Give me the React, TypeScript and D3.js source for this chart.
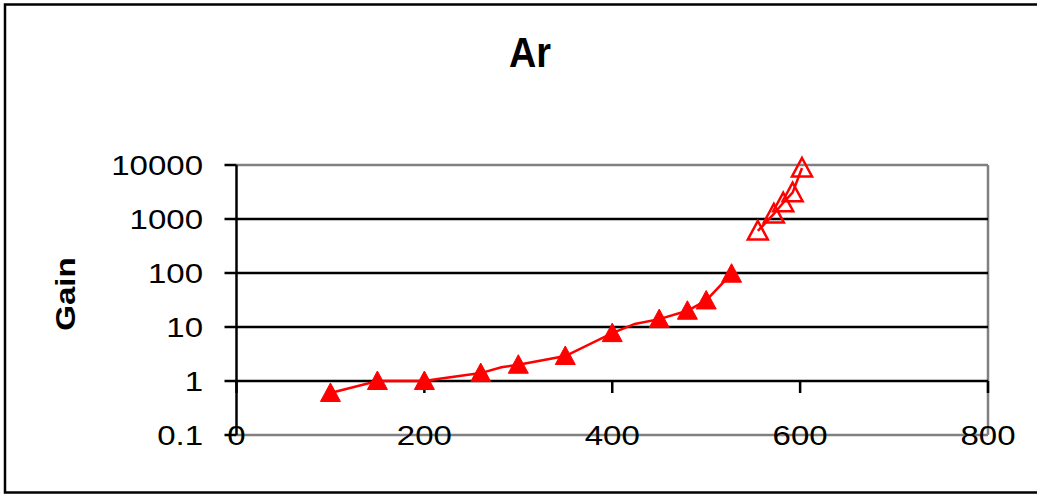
import React from "react";
import * as d3 from "d3";

const title = "Ar";
const yAxisTitle = "Gain";
const xTicks = [0, 200, 400, 600, 800];
const yTicks = [0.1, 1, 10, 100, 1000, 10000];
const yTickLabels = ["0.1", "1", "10", "100", "1000", "10000"];

// filled-triangle series (markers)
const s1X = [100, 150, 200, 260, 300, 350, 400, 450, 480, 500, 527];
const s1Y = [0.6, 1, 1, 1.4, 2, 2.9, 7.7, 14, 20, 31, 97];
// line through the filled series (includes unmarked points)
const l1X = [100, 150, 200, 216, 260, 282, 300, 350, 400, 424, 450, 480, 500, 527];
const l1Y = [0.6, 1, 1, 1.1, 1.4, 1.8, 2, 2.9, 7.7, 11.4, 14, 20, 31, 97];
// open-triangle series
const s2X = [555, 572, 582, 592, 602];
const s2Y = [600, 1240, 2000, 3070, 8800];

const W = 1037;
const H = 494;
const L = 236.5, R = 988, T = 165, B = 435;

export default function App() {
  const x = d3.scaleLinear().domain([0, 800]).range([L, R]);
  const y = d3.scaleLog().domain([0.1, 10000]).range([B, T]);
  const line = d3.line<[number, number]>().x((d) => x(d[0])).y((d) => y(d[1]));
  const l1 = l1X.map((v, i) => [v, l1Y[i]] as [number, number]);
  const l2 = s2X.map((v, i) => [v, s2Y[i]] as [number, number]);
  const tri = "M0,-10 L10,8.5 L-10,8.5 Z";
  const red = "#ff0000";
  const lab = { fontFamily: "'Liberation Sans', Arial, sans-serif", fontSize: 27.5, fill: "#000" };
  return (
    <svg width={W} height={H} style={{ position: "absolute", left: 0, top: 0, background: "#fff" }}>
      <rect x={5} y={4.5} width={1100} height={488} fill="#fff" stroke="#000" strokeWidth={2.5} />
      {/* plot border */}
      <line x1={L} x2={R} y1={T} y2={T} stroke="#808080" strokeWidth={2.5} />
      <line x1={R} x2={R} y1={T} y2={B} stroke="#808080" strokeWidth={2.5} />
      <line x1={L} x2={R} y1={B} y2={B} stroke="#808080" strokeWidth={2.5} />
      {/* gridlines */}
      {yTicks.filter((t) => t > 0.1 && t < 10000).map((t) => (
        <line key={t} x1={L} x2={R} y1={y(t)} y2={y(t)} stroke="#000" strokeWidth={2.5} />
      ))}
      {/* y axis */}
      <line x1={L} x2={L} y1={T} y2={B} stroke="#000" strokeWidth={2.5} />
      {yTicks.map((t) => (
        <line key={t} x1={L - 12} x2={L} y1={y(t)} y2={y(t)} stroke="#000" strokeWidth={2.5} />
      ))}
      {/* x ticks at y=1 crossing */}
      {xTicks.map((t) => (
        <line key={t} x1={x(t)} x2={x(t)} y1={y(1)} y2={y(1) + 12} stroke="#000" strokeWidth={2.5} />
      ))}
      {/* y tick labels */}
      {yTicks.map((t, i) => (
        <text key={t} transform={`translate(203,${y(t) + 10}) scale(1.2,1)`} textAnchor="end" style={lab}>
          {yTickLabels[i]}
        </text>
      ))}
      {/* x tick labels */}
      {xTicks.map((t) => (
        <text key={t} transform={`translate(${x(t)},${444.5}) scale(1.2,1)`} textAnchor="middle" style={lab}>
          {t}
        </text>
      ))}
      {/* title */}
      <text transform="translate(530,66.5) scale(0.9,1)" textAnchor="middle"
        style={{ fontFamily: "'Liberation Sans', Arial, sans-serif", fontSize: 42, fontWeight: 700 }}>
        {title}
      </text>
      <text transform="translate(75,294) rotate(-90) scale(1.18,1)" textAnchor="middle"
        style={{ fontFamily: "'Liberation Sans', Arial, sans-serif", fontSize: 28, fontWeight: 700 }}>
        {yAxisTitle}
      </text>
      {/* series lines */}
      <path d={line(l1) || ""} fill="none" stroke={red} strokeWidth={2.5} />
      <path d={line(l2) || ""} fill="none" stroke={red} strokeWidth={2.5} />
      {s1X.map((v, i) => (
        <path key={i} d={tri} transform={`translate(${x(v)},${y(s1Y[i])})`} fill={red} stroke={red} strokeWidth={1} />
      ))}
      {s2X.map((v, i) => (
        <path key={i} d={tri} transform={`translate(${x(v)},${y(s2Y[i])})`} fill="none" stroke={red} strokeWidth={2.5} />
      ))}
    </svg>
  );
}
